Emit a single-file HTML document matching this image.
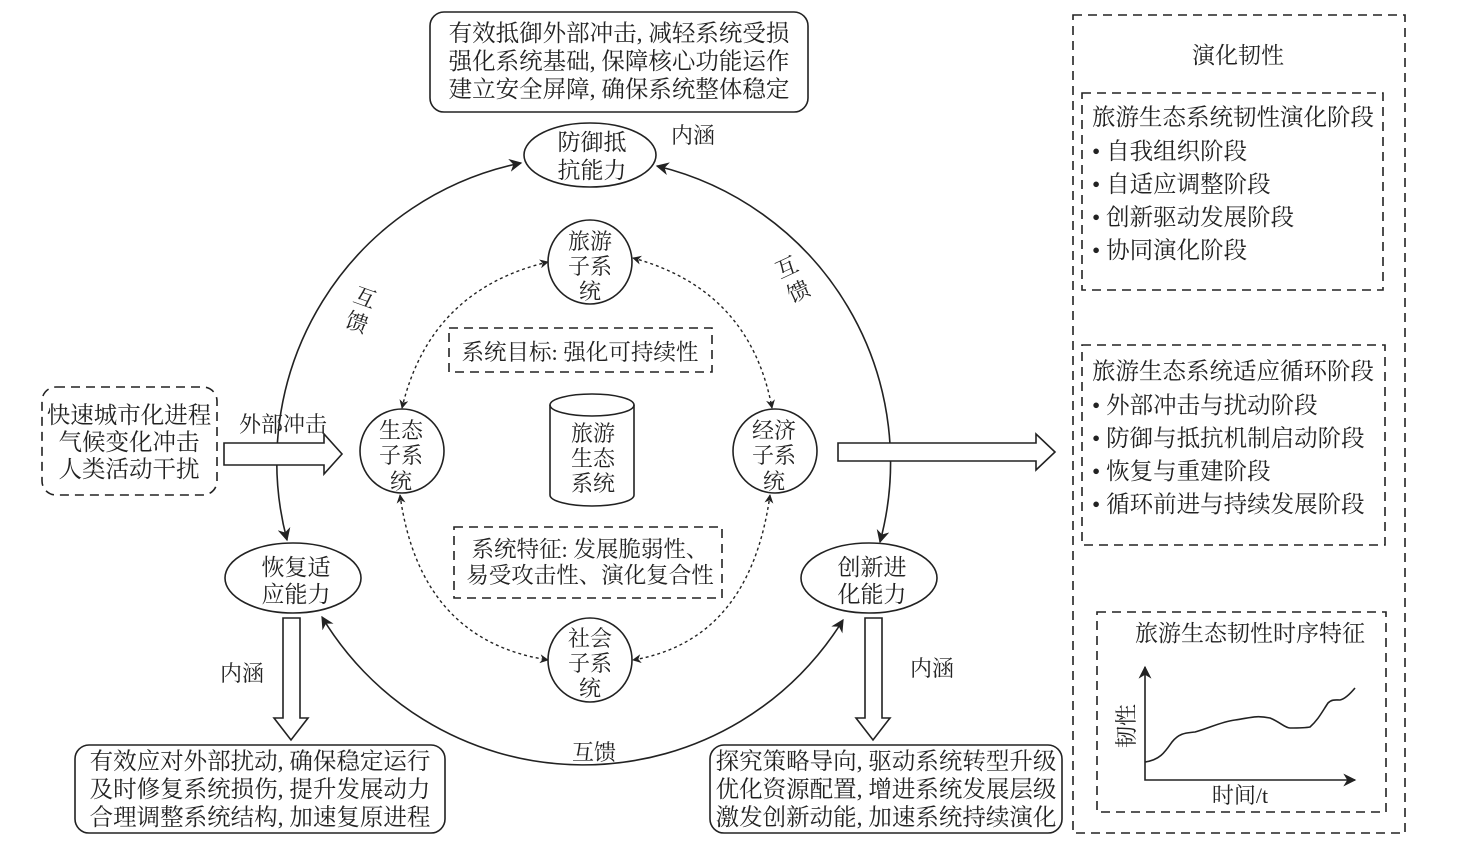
<!DOCTYPE html>
<html><head><meta charset="utf-8"><style>
html,body{margin:0;padding:0;background:#fff;}
svg{display:block;}
text{font-family:"Liberation Serif","Noto Serif CJK SC","Noto Sans CJK SC",serif;fill:#222;}
</style></head><body>
<svg width="1473" height="865" viewBox="0 0 1473 865" xmlns="http://www.w3.org/2000/svg">
<defs>
<marker id="a" viewBox="0 0 10 10" refX="9" refY="5" markerWidth="9" markerHeight="9" orient="auto-start-reverse" markerUnits="userSpaceOnUse"><path d="M0,0 L10,5 L0,10 L3,5 z" fill="#222"/></marker>
<marker id="b" viewBox="0 0 10 10" refX="9" refY="5" markerWidth="13" markerHeight="13" orient="auto-start-reverse" markerUnits="userSpaceOnUse"><path d="M0,0 L10,5 L0,10 L3,5 z" fill="#222"/></marker>
</defs>
<g fill="none" stroke="#222" stroke-width="1.6">
<path d="M287,540 A305,305 0 0 1 521,163" marker-start="url(#b)" marker-end="url(#b)"/>
<path d="M657,166 A305,305 0 0 1 880,542" marker-start="url(#b)" marker-end="url(#b)"/>
<path d="M322,617 A305,305 0 0 0 843,620" marker-start="url(#b)" marker-end="url(#b)"/>
<g stroke-dasharray="3,3" stroke-width="1.4">
<path d="M548,262 Q430,290 402,408" marker-start="url(#a)" marker-end="url(#a)"/>
<path d="M633,258 Q750,290 772,408" marker-start="url(#a)" marker-end="url(#a)"/>
<path d="M400,495 Q420,640 548,660" marker-start="url(#a)" marker-end="url(#a)"/>
<path d="M770,495 Q750,640 633,660" marker-start="url(#a)" marker-end="url(#a)"/>
</g>
<ellipse cx="590" cy="155" rx="66" ry="32" fill="#fff"/>
<ellipse cx="293" cy="578" rx="68" ry="35" fill="#fff"/>
<ellipse cx="869" cy="578" rx="68" ry="35" fill="#fff"/>
<circle cx="590" cy="262" r="42" fill="#fff"/>
<circle cx="402" cy="451" r="42" fill="#fff"/>
<circle cx="775" cy="451" r="42" fill="#fff"/>
<circle cx="590" cy="660" r="42" fill="#fff"/>
<path d="M550,405 L550,495 A42,11 0 0 0 634,495 L634,405"/>
<ellipse cx="592" cy="405" rx="42" ry="11"/>
<rect x="430" y="12" width="378" height="100" rx="14"/>
<rect x="75" y="745" width="370" height="88" rx="14"/>
<rect x="710" y="745" width="352" height="88" rx="14"/>
<g stroke-dasharray="9,6">
<rect x="42" y="387" width="175" height="108" rx="14"/>
<rect x="449" y="328" width="263" height="44"/>
<rect x="454" y="527" width="268" height="71"/>
<rect x="1073" y="15" width="332" height="818"/>
<rect x="1082" y="93" width="301" height="197"/>
<rect x="1082" y="345" width="303" height="200"/>
<rect x="1097" y="612" width="289" height="200"/>
</g>
<path d="M224,443 L324,443 L324,434 L342,454 L324,474 L324,465 L224,465 Z" fill="#fff"/>
<path d="M838,443 L1036,443 L1036,434 L1055,452 L1036,470 L1036,461 L838,461 Z" fill="#fff"/>
<path d="M283,618 L300,618 L300,718 L308,718 L291,740 L274,718 L283,718 Z" fill="#fff"/>
<path d="M865,618 L882,618 L882,718 L890,718 L873,740 L856,718 L865,718 Z" fill="#fff"/>
<path d="M1145,667 L1145,780 L1355,780" marker-start="url(#b)" marker-end="url(#b)"/>
<path d="M1145,762 C1160,760 1165,752 1172,742 C1180,732 1188,733 1195,732 C1210,728 1220,722 1235,720 C1250,718 1255,715 1270,718 C1280,722 1285,728 1290,728 C1300,728 1305,728 1310,727 C1318,720 1322,712 1328,703 C1332,699 1336,700 1340,700 C1345,699 1350,694 1355,688" />
</g>
<g font-size="23.5" text-anchor="middle">
<text x="619" y="41">有效抵御外部冲击, 减轻系统受损</text>
<text x="619" y="69">强化系统基础, 保障核心功能运作</text>
<text x="619" y="97">建立安全屏障, 确保系统整体稳定</text>
<text x="592" y="150" font-size="23">防御抵</text>
<text x="592" y="178" font-size="23">抗能力</text>
<text x="693" y="143" font-size="22">内涵</text>
<text x="590" y="249" font-size="22">旅游</text>
<text x="590" y="274" font-size="22">子系</text>
<text x="590" y="299" font-size="22">统</text>
<text x="580" y="360" font-size="22.5">系统目标: 强化可持续性</text>
<text x="401" y="438" font-size="22">生态</text>
<text x="401" y="463" font-size="22">子系</text>
<text x="401" y="489" font-size="22">统</text>
<text x="774" y="438" font-size="22">经济</text>
<text x="774" y="463" font-size="22">子系</text>
<text x="774" y="489" font-size="22">统</text>
<text x="593" y="441" font-size="22">旅游</text>
<text x="593" y="466" font-size="22">生态</text>
<text x="593" y="491" font-size="22">系统</text>
<text x="590" y="557" font-size="22.5">系统特征: 发展脆弱性、</text>
<text x="590" y="583" font-size="22.5">易受攻击性、演化复合性</text>
<text x="590" y="646" font-size="22">社会</text>
<text x="590" y="671" font-size="22">子系</text>
<text x="590" y="696" font-size="22">统</text>
<text x="129" y="423">快速城市化进程</text>
<text x="129" y="450">气候变化冲击</text>
<text x="129" y="477">人类活动干扰</text>
<text x="283" y="432" font-size="22">外部冲击</text>
<text x="296" y="575" font-size="23">恢复适</text>
<text x="296" y="602" font-size="23">应能力</text>
<text x="872" y="575" font-size="23">创新进</text>
<text x="872" y="602" font-size="23">化能力</text>
<text x="242" y="681" font-size="22">内涵</text>
<text x="932" y="676" font-size="22">内涵</text>
<text x="594" y="760" font-size="22">互馈</text>
<text x="260" y="769">有效应对外部扰动, 确保稳定运行</text>
<text x="260" y="797">及时修复系统损伤, 提升发展动力</text>
<text x="260" y="825">合理调整系统结构, 加速复原进程</text>
<text x="886" y="769">探究策略导向, 驱动系统转型升级</text>
<text x="886" y="797">优化资源配置, 增进系统发展层级</text>
<text x="886" y="825">激发创新动能, 加速系统持续演化</text>
<text x="1238" y="63" font-size="23">演化韧性</text>
<text x="1250" y="641" font-size="23">旅游生态韧性时序特征</text>
<text x="1240" y="803" font-size="22">时间/t</text>
</g>
<g font-size="22">
<text transform="translate(352,301) rotate(20)">互</text>
<text transform="translate(344,326) rotate(20)">馈</text>
<text transform="translate(780,279) rotate(-25)">互</text>
<text transform="translate(792,303) rotate(-25)">馈</text>
<text transform="translate(1134,748) rotate(-90)">韧性</text>
</g>
<g font-size="23.5">
<text x="1092" y="125">旅游生态系统韧性演化阶段</text>
<text x="1092" y="159">• 自我组织阶段</text>
<text x="1092" y="192">• 自适应调整阶段</text>
<text x="1092" y="225">• 创新驱动发展阶段</text>
<text x="1092" y="258">• 协同演化阶段</text>
<text x="1092" y="379">旅游生态系统适应循环阶段</text>
<text x="1092" y="413">• 外部冲击与扰动阶段</text>
<text x="1092" y="446">• 防御与抵抗机制启动阶段</text>
<text x="1092" y="479">• 恢复与重建阶段</text>
<text x="1092" y="512">• 循环前进与持续发展阶段</text>
</g>
</svg>
</body></html>
